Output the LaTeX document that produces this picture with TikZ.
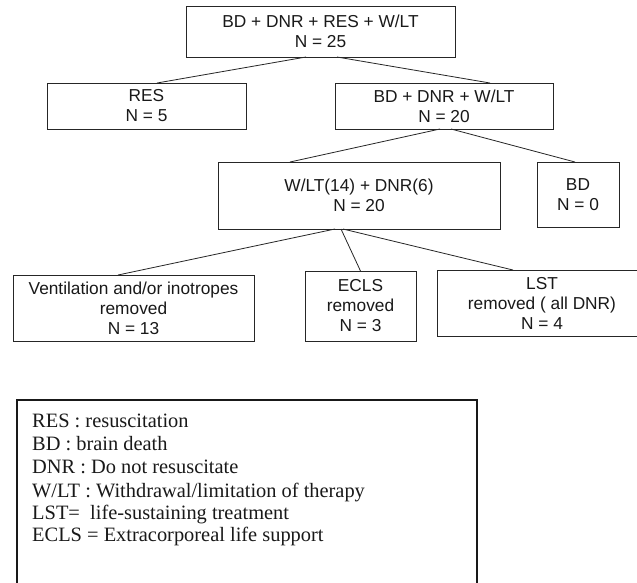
\documentclass[tikz,border=0pt]{standalone}
\usepackage{fontspec}
\setmainfont{Liberation Serif}
\newfontfamily\arialf{Liberation Sans}
\usetikzlibrary{calc}
\tikzset{
  box/.style={draw=black!85, line width=0.8pt, inner sep=0pt, outer sep=0pt, align=center,
    font=\arialf\fontsize{17.3}{20}\selectfont, text=black!90},
  link/.style={draw=black!85, line width=0.8pt},
  legline/.style={anchor=base west, inner sep=0pt, font=\fontsize{20.4}{22.9}\selectfont, text=black!90},
  legbox/.style={draw=black!90, line width=1.4pt}
}
\begin{document}
\begin{tikzpicture}[x=1pt,y=-1pt]
\useasboundingbox (0,0) rectangle (637,582);
\clip (0,0) rectangle (637,582);
\fill[white] (0,0) rectangle (637,582);

\node[box, minimum width=269, minimum height=51] (top) at (320.5,31.5) {BD + DNR + RES + W/LT\\N = 25};
\node[box, minimum width=199, minimum height=46] (res) at (146.5,106) {RES\\N = 5};
\node[box, minimum width=218, minimum height=46] (bdw) at (444,106) {BD + DNR + W/LT\\N = 20};
\node[box, minimum width=282, minimum height=67] (wlt) at (359,195.5) {W/LT(14) + DNR(6)\\N = 20};
\node[box, minimum width=82, minimum height=65] (bd) at (578,194.5) {BD\\N = 0};
\node[box, minimum width=241, minimum height=66] (vent) at (133.5,308) {Ventilation and/or inotropes\\removed\\N = 13};
\node[box, minimum width=111, minimum height=70] (ecls) at (360.5,306) {ECLS\\removed\\N = 3};
\node[box, minimum width=210, minimum height=66] (lst) at (542,303) {LST\\removed ( all DNR)\\N = 4};

\draw[link] ([xshift=-14.5]top.south) -- ([xshift=10.5]res.north);
\draw[link] ([xshift=16.5]top.south) -- ([xshift=46]bdw.north);
\draw[link] ([xshift=-4]bdw.south) -- ([xshift=-69]wlt.north);
\draw[link] ([xshift=7]bdw.south) -- ([xshift=-3]bd.north);
\draw[link] ([xshift=-24]wlt.south) -- ([xshift=-15.5]vent.north);
\draw[link] ([xshift=-18]wlt.south) -- ([xshift=0]ecls.north);
\draw[link] ([xshift=-16]wlt.south) -- ([xshift=-29]lst.north);

\draw[legbox] (17,610) -- (17,400) -- (477,400) -- (477,610);
\node[legline] (l1) at (32,427) {RES : resuscitation};
\node[legline] (l2) at (32,450.3) {BD : brain death};
\node[legline] (l3) at (32,473.7) {DNR : Do not resuscitate};
\node[legline] (l4) at (32,497) {W/LT : Withdrawal/limitation of therapy};
\node[legline] (l5) at (32,519) {LST=~ life-sustaining treatment};
\node[legline] (l6) at (32,541.5) {ECLS = Extracorporeal life support};
\end{tikzpicture}
\end{document}
